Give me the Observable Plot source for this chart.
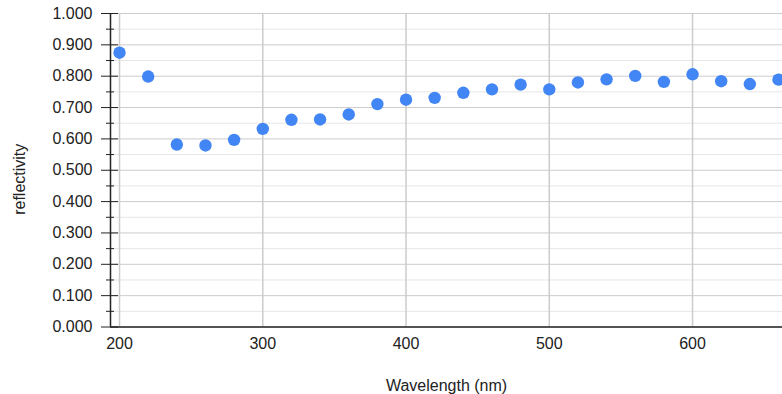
<!DOCTYPE html>
<html>
<head>
<meta charset="utf-8">
<script src="https://cdn.jsdelivr.net/npm/d3@7"></script>
<script src="https://cdn.jsdelivr.net/npm/@observablehq/plot@0.6"></script>
<style>
  html, body { margin: 0; padding: 0; background: #fff; }
  svg { display: block; }
</style>
</head>
<body>
<div id="chart"></div>
<script>
const wavelength = [200, 220, 240, 260, 280, 300, 320, 340, 360, 380, 400, 420, 440, 460, 480, 500, 520, 540, 560, 580, 600, 620, 640, 660];
const reflectivity = [0.875, 0.799, 0.582, 0.579, 0.597, 0.632, 0.661, 0.662, 0.678, 0.711, 0.725, 0.731, 0.747, 0.758, 0.773, 0.758, 0.780, 0.790, 0.801, 0.782, 0.806, 0.784, 0.775, 0.789];
const xTicks = [200, 300, 400, 500, 600];
const yMajor = [0, 0.1, 0.2, 0.3, 0.4, 0.5, 0.6, 0.7, 0.8, 0.9, 1.0];
const yMinor = [0.05, 0.15, 0.25, 0.35, 0.45, 0.55, 0.65, 0.75, 0.85, 0.95];
const xDomain = [193.7, 662.8];
const yDomain = [0, 1];
const xLabel = "Wavelength (nm)";
const yLabel = "reflectivity";

const data = wavelength.map((w, i) => ({w, r: reflectivity[i]}));

const chart = Plot.plot({
  width: 782,
  height: 394,
  marginLeft: 110,
  marginRight: 0,
  marginTop: 13,
  marginBottom: 67.5,
  style: {fontFamily: "'Liberation Sans', Arial, sans-serif", fontSize: "16px", color: "#222", background: "#fff"},
  x: {domain: xDomain},
  y: {domain: yDomain},
  marks: [
    Plot.gridY(yMinor, {stroke: "#e6e6e6", strokeOpacity: 1, strokeWidth: 1}),
    Plot.gridY(yMajor, {stroke: "#cccccc", strokeOpacity: 1, strokeWidth: 1}),
    Plot.gridX(xTicks, {stroke: "#cccccc", strokeOpacity: 1, strokeWidth: 1.5}),
    Plot.axisY(yMajor, {tickSize: 9, tickPadding: 9, tickFormat: d3.format(".3f"), stroke: "#222", fontSize: 16, label: null}),
    Plot.axisY(yMajor, {tickSize: -8, text: null, label: null, stroke: "#222"}),
    Plot.axisY(yMinor, {tickSize: 4, text: null, label: null, stroke: "#222"}),
    Plot.axisY(yMinor, {tickSize: -4, text: null, label: null, stroke: "#222"}),
    Plot.text([yLabel], {frameAnchor: "left", textAnchor: "middle", lineAnchor: "middle", rotate: -90, dx: -91, dy: 9, fontSize: 16, fill: "#222", text: d => d}),
    Plot.axisX(xTicks, {tickSize: 0, tickPadding: 11, fontSize: 16, label: xLabel, labelAnchor: "center", labelArrow: "none", labelOffset: 64}),
    Plot.ruleX([xDomain[0]], {stroke: "#222", strokeWidth: 1.5}),
    Plot.ruleY([0], {stroke: "#222", strokeWidth: 1.5}),
    Plot.dot(data, {x: "w", y: "r", r: 6.2, fill: "#4285f4", stroke: "none", clip: false})
  ]
});
document.getElementById("chart").appendChild(chart);
</script>
</body>
</html>
